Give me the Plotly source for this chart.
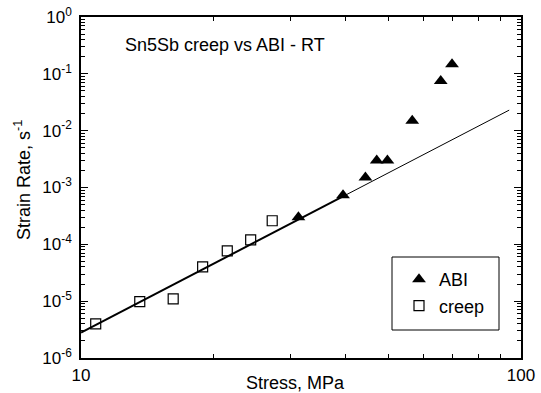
import plotly.graph_objects as go

# Data
creep_stress = [10.8, 13.6, 16.2, 18.9, 21.5, 24.3, 27.2]
creep_rate = [4.0e-6, 9.8e-6, 1.1e-5, 4.0e-5, 7.7e-5, 1.2e-4, 2.6e-4]

abi_stress = [31.2, 39.4, 44.3, 47.0, 49.7, 56.6, 65.7, 69.7]
abi_rate = [3.0e-4, 7.3e-4, 1.5e-3, 3.0e-3, 3.0e-3, 1.5e-2, 7.5e-2, 1.48e-1]

fit_thick_x = [10, 40]
fit_thick_y = [2.8e-6, 7.4e-4]
fit_thin_x = [40, 94]
fit_thin_y = [7.4e-4, 2.3e-2]

x_major = [10, 100]
x_major_text = ["10", "100"]
x_minor = [20, 30, 40, 50, 60, 70, 80, 90]
y_major = [1e-6, 1e-5, 1e-4, 1e-3, 1e-2, 1e-1, 1e0]
y_major_text = ["10<sup>-6</sup>", "10<sup>-5</sup>", "10<sup>-4</sup>", "10<sup>-3</sup>",
                "10<sup>-2</sup>", "10<sup>-1</sup>", "10<sup>0</sup>"]
y_minor = [m * 10.0 ** e for e in range(-6, 0) for m in range(2, 10)]

FONT = "Liberation Sans, Arial, sans-serif"

# plot area in pixels (layout helpers)
L, R, T, B = 81, 521, 17, 358
W, H = R - L, B - T


def px(x):
    return (x - L) / W


def py(y):
    return (B - y) / H


fig = go.Figure()
fig.add_trace(go.Scatter(x=fit_thick_x, y=fit_thick_y, mode="lines",
                         line=dict(color="black", width=2), showlegend=False, hoverinfo="skip"))
fig.add_trace(go.Scatter(x=fit_thin_x, y=fit_thin_y, mode="lines",
                         line=dict(color="black", width=1), showlegend=False, hoverinfo="skip"))
fig.add_trace(go.Scatter(x=abi_stress, y=abi_rate, mode="markers", name="ABI",
                         marker=dict(symbol="triangle-up", size=12, color="black",
                                     line=dict(width=0))))
fig.add_trace(go.Scatter(x=creep_stress, y=creep_rate, mode="markers", name="creep",
                         marker=dict(symbol="square-open", size=10, color="black",
                                     line=dict(width=1.2))))
# invisible trace for minor-tick axes
fig.add_trace(go.Scatter(x=[10, 100], y=[1e-6, 1], xaxis="x2", yaxis="y2",
                         mode="markers", marker=dict(opacity=0), showlegend=False, hoverinfo="skip"))

fig.update_layout(
    width=541, height=393,
    margin=dict(l=L, r=541 - R, t=T, b=393 - B),
    paper_bgcolor="white", plot_bgcolor="white",
    font=dict(family=FONT, color="black", size=17),
    xaxis=dict(type="log", range=[1, 2], tickmode="array", tickvals=x_major, ticktext=x_major_text,
               ticks="inside", ticklen=7, tickcolor="black", showline=True, linecolor="black",
               linewidth=1.5, mirror="allticks", showgrid=False, zeroline=False,
               tickfont=dict(size=17), automargin=False, ticklabelstandoff=1),
    yaxis=dict(type="log", range=[-6, 0], tickmode="array", tickvals=y_major, ticktext=y_major_text,
               ticks="inside", ticklen=7, tickcolor="black", showline=True, linecolor="black",
               linewidth=1.5, mirror="allticks", showgrid=False, zeroline=False,
               tickfont=dict(size=17), automargin=False, ticklabelstandoff=4),
    xaxis2=dict(type="log", range=[1, 2], overlaying="x", tickmode="array", tickvals=x_minor,
                ticks="inside", ticklen=4, tickcolor="black", showticklabels=False,
                showline=False, mirror="allticks", showgrid=False, zeroline=False, anchor="y"),
    yaxis2=dict(type="log", range=[-6, 0], overlaying="y", tickmode="array", tickvals=y_minor,
                ticks="inside", ticklen=4, tickcolor="black", showticklabels=False,
                showline=False, mirror="allticks", showgrid=False, zeroline=False, anchor="x"),
    legend=dict(x=px(399), y=py(261), xanchor="left", yanchor="top",
                borderwidth=0, bgcolor="rgba(0,0,0,0)",
                font=dict(size=18), itemwidth=30, tracegroupgap=0),
    shapes=[dict(type="rect", xref="paper", yref="paper", x0=px(392), x1=px(499),
                 y0=py(330), y1=py(257), line=dict(color="black", width=1), layer="above")],
    annotations=[
        dict(text="Sn5Sb creep vs ABI - RT", xref="paper", yref="paper",
             x=px(123), y=py(45), xanchor="left", yanchor="middle",
             showarrow=False, font=dict(size=18)),
        dict(text="Stress, MPa", xref="paper", yref="paper", x=px(295), y=py(383),
             xanchor="center", yanchor="middle", showarrow=False, font=dict(size=18)),
        dict(text="Strain Rate, s<sup>-1</sup>", xref="paper", yref="paper", x=px(22), y=py(180),
             xanchor="center", yanchor="middle", textangle=-90, showarrow=False,
             font=dict(size=18)),
    ],
)

fig.write_html("out.html")
